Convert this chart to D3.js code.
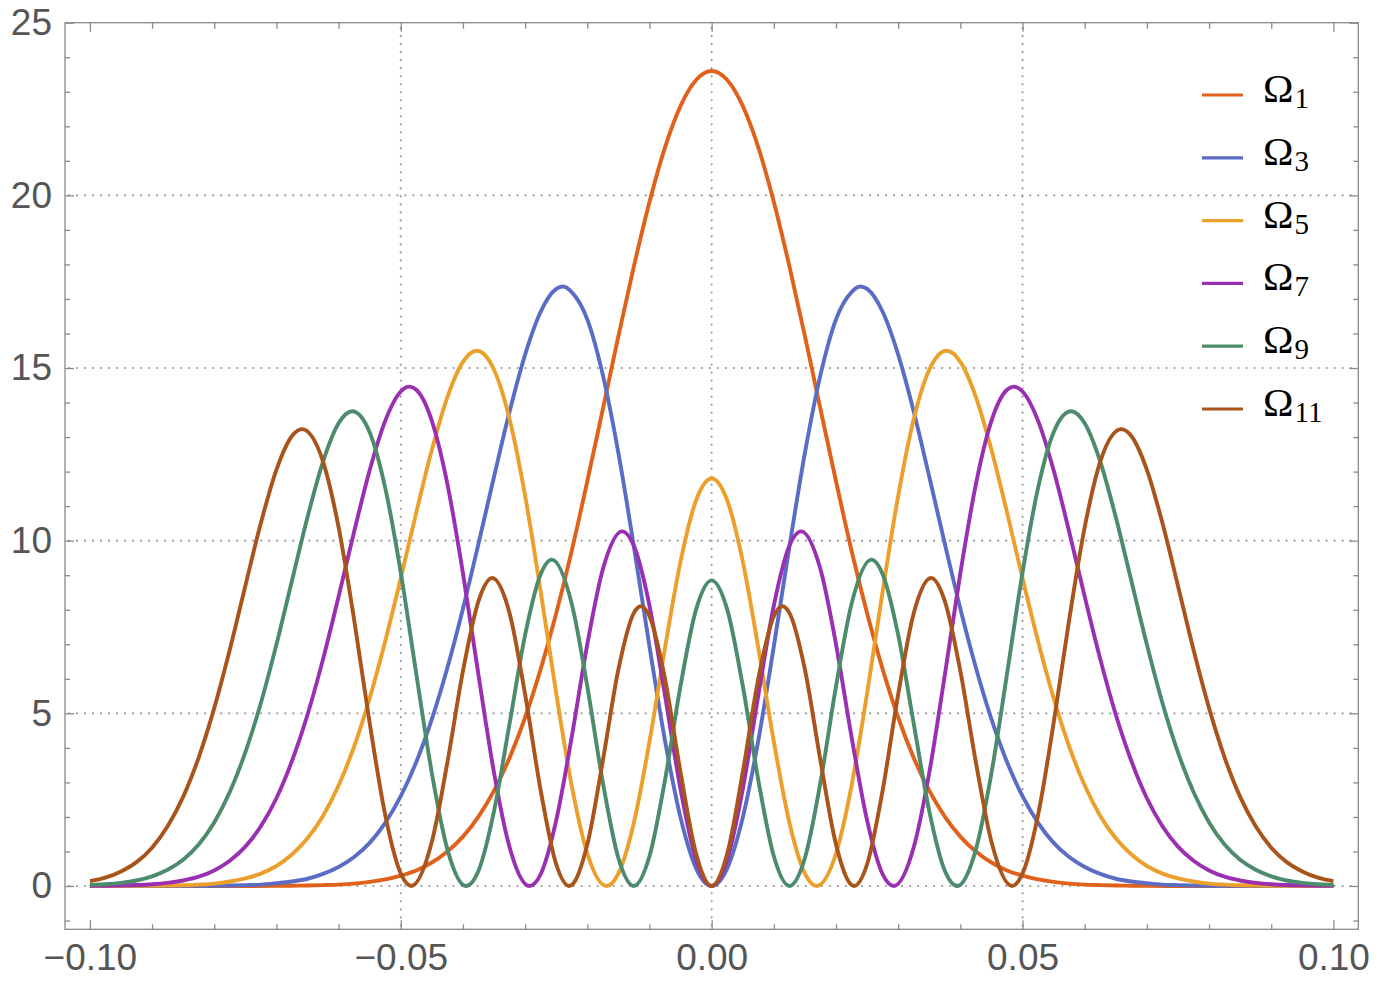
<!DOCTYPE html>
<html>
<head>
<meta charset="utf-8">
<script src="https://cdn.jsdelivr.net/npm/d3@7"></script>
<style>
  body { margin: 0; background: #fff; }
  svg { display: block; }
</style>
</head>
<body>
<div class="plotContainer"></div>
<script>
// ======= data =======

var seriesNames = ["1", "3", "5", "7", "9", "11"];
var seriesColors = ["#e0611b", "#5b6cc5", "#eaa02a", "#9a2fb2", "#4c8b6c", "#a8541a"];

var omega1 = [
  [-0.1, 0], [-0.09, 0], [-0.08, 0], [-0.075, 0.001], [-0.07, 0.004], [-0.0675, 0.008], [-0.065, 0.015],
  [-0.0625, 0.025], [-0.06, 0.04], [-0.0575, 0.07], [-0.055, 0.12], [-0.0525, 0.19], [-0.05, 0.30],
  [-0.0475, 0.45], [-0.045, 0.68], [-0.0425, 1.00], [-0.04, 1.43], [-0.0375, 2.01], [-0.035, 2.76],
  [-0.0325, 3.71], [-0.03, 4.88], [-0.0275, 6.28], [-0.025, 7.90], [-0.0225, 9.71], [-0.02, 11.72],
  [-0.0175, 13.81], [-0.015, 15.92], [-0.0125, 17.95], [-0.01, 19.81], [-0.0075, 21.39], [-0.005, 22.59],
  [-0.0025, 23.34], [0, 23.6],
  [0.0025, 23.34], [0.005, 22.59], [0.0075, 21.39], [0.01, 19.81], [0.0125, 17.95], [0.015, 15.92],
  [0.0175, 13.81], [0.02, 11.72], [0.0225, 9.71], [0.025, 7.90], [0.0275, 6.28], [0.03, 4.88],
  [0.0325, 3.71], [0.035, 2.76], [0.0375, 2.01], [0.04, 1.43], [0.0425, 1.00], [0.045, 0.68],
  [0.0475, 0.45], [0.05, 0.30], [0.0525, 0.19], [0.055, 0.12], [0.0575, 0.07], [0.06, 0.04],
  [0.0625, 0.025], [0.065, 0.015], [0.0675, 0.008], [0.07, 0.004], [0.075, 0.001], [0.08, 0],
  [0.09, 0], [0.1, 0]
];

var omega3 = [
  [-0.1, 0], [-0.09, 0], [-0.085, 0.002], [-0.08, 0.007], [-0.0775, 0.013], [-0.075, 0.025], [-0.0725, 0.04],
  [-0.07, 0.08], [-0.0675, 0.13], [-0.065, 0.21], [-0.0625, 0.35], [-0.06, 0.55], [-0.0575, 0.84],
  [-0.055, 1.25], [-0.0525, 1.83], [-0.05, 2.60], [-0.0475, 3.59], [-0.045, 4.83], [-0.0425, 6.32],
  [-0.04, 8.03], [-0.0375, 9.91], [-0.035, 11.85], [-0.0325, 13.74], [-0.03, 15.39], [-0.0275, 16.63],
  [-0.025, 17.29], [-0.0239, 17.36], [-0.0225, 17.20], [-0.02, 16.41], [-0.0175, 14.80], [-0.015, 12.54],
  [-0.0125, 9.82], [-0.01, 6.94], [-0.0075, 4.21], [-0.005, 1.98], [-0.0025, 0.51], [0, 0],
  [0.0025, 0.51], [0.005, 1.98], [0.0075, 4.21], [0.01, 6.94], [0.0125, 9.82], [0.015, 12.54],
  [0.0175, 14.80], [0.02, 16.41], [0.0225, 17.20], [0.0239, 17.36], [0.025, 17.29], [0.0275, 16.63],
  [0.03, 15.39], [0.0325, 13.74], [0.035, 11.85], [0.0375, 9.91], [0.04, 8.03], [0.0425, 6.32],
  [0.045, 4.83], [0.0475, 3.59], [0.05, 2.60], [0.0525, 1.83], [0.055, 1.25], [0.0575, 0.84],
  [0.06, 0.55], [0.0625, 0.35], [0.065, 0.21], [0.0675, 0.13], [0.07, 0.08], [0.0725, 0.04],
  [0.075, 0.025], [0.0775, 0.013], [0.08, 0.007], [0.085, 0.002], [0.09, 0], [0.1, 0]
];

var omega5 = [
  [-0.1, 0], [-0.095, 0.002], [-0.09, 0.006], [-0.0875, 0.012], [-0.085, 0.02], [-0.0825, 0.04], [-0.08, 0.07],
  [-0.0775, 0.13], [-0.075, 0.22], [-0.0725, 0.36], [-0.07, 0.58], [-0.0675, 0.91], [-0.065, 1.38],
  [-0.0625, 2.03], [-0.06, 2.91], [-0.0575, 4.04], [-0.055, 5.44], [-0.0525, 7.09], [-0.05, 8.91],
  [-0.0475, 10.82], [-0.045, 12.63], [-0.0425, 14.16], [-0.04, 15.18], [-0.0378, 15.50], [-0.035, 14.95],
  [-0.0325, 13.52], [-0.03, 11.30], [-0.0275, 8.53], [-0.025, 5.58], [-0.0225, 2.90], [-0.02, 0.94],
  [-0.0169, 0], [-0.015, 0.36], [-0.0125, 1.84], [-0.01, 4.18], [-0.0075, 6.90], [-0.005, 9.40],
  [-0.0025, 11.17], [0, 11.8],
  [0.0025, 11.17], [0.005, 9.40], [0.0075, 6.90], [0.01, 4.18], [0.0125, 1.84], [0.015, 0.36],
  [0.0169, 0], [0.02, 0.94], [0.0225, 2.90], [0.025, 5.58], [0.0275, 8.53], [0.03, 11.30],
  [0.0325, 13.52], [0.035, 14.95], [0.0378, 15.50], [0.04, 15.18], [0.0425, 14.16], [0.045, 12.63],
  [0.0475, 10.82], [0.05, 8.91], [0.0525, 7.09], [0.055, 5.44], [0.0575, 4.04], [0.06, 2.91],
  [0.0625, 2.03], [0.065, 1.38], [0.0675, 0.91], [0.07, 0.58], [0.0725, 0.36], [0.075, 0.22],
  [0.0775, 0.13], [0.08, 0.07], [0.0825, 0.04], [0.085, 0.02], [0.0875, 0.012], [0.09, 0.006],
  [0.095, 0.002], [0.1, 0]
];

var omega7 = [
  [-0.1, 0.004], [-0.0975, 0.007], [-0.095, 0.014], [-0.0925, 0.027], [-0.09, 0.05], [-0.0875, 0.09],
  [-0.085, 0.16], [-0.0825, 0.27], [-0.08, 0.45], [-0.0775, 0.73], [-0.075, 1.14], [-0.0725, 1.73],
  [-0.07, 2.54], [-0.0675, 3.62], [-0.065, 4.96], [-0.0625, 6.57], [-0.06, 8.38], [-0.0575, 10.26],
  [-0.055, 12.04], [-0.0525, 13.47], [-0.05, 14.32], [-0.0486, 14.46], [-0.0475, 14.37], [-0.045, 13.47],
  [-0.0425, 11.64], [-0.04, 9.06], [-0.0375, 6.11], [-0.035, 3.28], [-0.0325, 1.12], [-0.0293, 0],
  [-0.0275, 0.34], [-0.025, 1.90], [-0.0225, 4.32], [-0.02, 7.00], [-0.0175, 9.17], [-0.0144, 10.27],
  [-0.0125, 9.85], [-0.01, 8.12], [-0.0075, 5.52], [-0.005, 2.80], [-0.0025, 0.76], [0, 0],
  [0.0025, 0.76], [0.005, 2.80], [0.0075, 5.52], [0.01, 8.12], [0.0125, 9.85], [0.0144, 10.27],
  [0.0175, 9.17], [0.02, 7.00], [0.0225, 4.32], [0.025, 1.90], [0.0275, 0.34], [0.0293, 0],
  [0.0325, 1.12], [0.035, 3.28], [0.0375, 6.11], [0.04, 9.06], [0.0425, 11.64], [0.045, 13.47],
  [0.0475, 14.37], [0.0486, 14.46], [0.05, 14.32], [0.0525, 13.47], [0.055, 12.04], [0.0575, 10.26],
  [0.06, 8.38], [0.0625, 6.57], [0.065, 4.96], [0.0675, 3.62], [0.07, 2.54], [0.0725, 1.73],
  [0.075, 1.14], [0.0775, 0.73], [0.08, 0.45], [0.0825, 0.27], [0.085, 0.16], [0.0875, 0.09],
  [0.09, 0.05], [0.0925, 0.027], [0.095, 0.014], [0.0975, 0.007], [0.1, 0.004]
];

var omega9 = [
  [-0.1, 0.03], [-0.0975, 0.05], [-0.095, 0.09], [-0.0925, 0.16], [-0.09, 0.28], [-0.0875, 0.47],
  [-0.085, 0.76], [-0.0825, 1.20], [-0.08, 1.84], [-0.0775, 2.72], [-0.075, 3.87], [-0.0725, 5.30],
  [-0.07, 6.99], [-0.0675, 8.84], [-0.065, 10.68], [-0.0625, 12.29], [-0.06, 13.40], [-0.0578, 13.75],
  [-0.055, 13.14], [-0.0525, 11.53], [-0.05, 9.08], [-0.0475, 6.14], [-0.045, 3.27], [-0.0425, 1.06],
  [-0.0395, 0], [-0.0375, 0.44], [-0.035, 2.17], [-0.0325, 4.70], [-0.03, 7.27], [-0.0275, 9.03],
  [-0.0257, 9.45], [-0.0225, 8.17], [-0.02, 5.78], [-0.0175, 3.00], [-0.015, 0.81], [-0.0125, 0],
  [-0.01, 0.86], [-0.0075, 3.07], [-0.005, 5.80], [-0.0025, 8.01], [0, 8.85],
  [0.0025, 8.01], [0.005, 5.80], [0.0075, 3.07], [0.01, 0.86], [0.0125, 0], [0.015, 0.81],
  [0.0175, 3.00], [0.02, 5.78], [0.0225, 8.17], [0.0257, 9.45], [0.0275, 9.03], [0.03, 7.27],
  [0.0325, 4.70], [0.035, 2.17], [0.0375, 0.44], [0.0395, 0], [0.0425, 1.06], [0.045, 3.27],
  [0.0475, 6.14], [0.05, 9.08], [0.0525, 11.53], [0.055, 13.14], [0.0578, 13.75], [0.06, 13.40],
  [0.0625, 12.29], [0.065, 10.68], [0.0675, 8.84], [0.07, 6.99], [0.0725, 5.30], [0.075, 3.87],
  [0.0775, 2.72], [0.08, 1.84], [0.0825, 1.20], [0.085, 0.76], [0.0875, 0.47], [0.09, 0.28],
  [0.0925, 0.16], [0.095, 0.09], [0.0975, 0.05], [0.1, 0.03]
];

var omega11 = [
  [-0.1, 0.14], [-0.0975, 0.24], [-0.095, 0.42], [-0.0925, 0.69], [-0.09, 1.11], [-0.0875, 1.73],
  [-0.085, 2.58], [-0.0825, 3.72], [-0.08, 5.15], [-0.0775, 6.84], [-0.075, 8.69], [-0.0725, 10.51],
  [-0.07, 12.05], [-0.0675, 13.03], [-0.0659, 13.23], [-0.0625, 12.29], [-0.06, 10.39], [-0.0575, 7.71],
  [-0.055, 4.72], [-0.0525, 2.06], [-0.05, 0.36], [-0.0483, 0], [-0.045, 1.28], [-0.0425, 3.58],
  [-0.04, 6.22], [-0.0375, 8.25], [-0.0353, 8.92], [-0.0325, 7.90], [-0.03, 5.55], [-0.0275, 2.77],
  [-0.025, 0.63], [-0.0229, 0], [-0.02, 1.20], [-0.0175, 3.63], [-0.015, 6.27], [-0.0125, 7.91],
  [-0.0114, 8.10], [-0.01, 7.81], [-0.0075, 6.00], [-0.005, 3.29], [-0.0025, 0.93], [0, 0],
  [0.0025, 0.93], [0.005, 3.29], [0.0075, 6.00], [0.01, 7.81], [0.0114, 8.10], [0.0125, 7.91],
  [0.015, 6.27], [0.0175, 3.63], [0.02, 1.20], [0.0229, 0], [0.025, 0.63], [0.0275, 2.77],
  [0.03, 5.55], [0.0325, 7.90], [0.0353, 8.92], [0.0375, 8.25], [0.04, 6.22], [0.0425, 3.58],
  [0.045, 1.28], [0.0483, 0], [0.05, 0.36], [0.0525, 2.06], [0.055, 4.72], [0.0575, 7.71],
  [0.06, 10.39], [0.0625, 12.29], [0.0659, 13.23], [0.0675, 13.03], [0.07, 12.05], [0.0725, 10.51],
  [0.075, 8.69], [0.0775, 6.84], [0.08, 5.15], [0.0825, 3.72], [0.085, 2.58], [0.0875, 1.73],
  [0.09, 1.11], [0.0925, 0.69], [0.095, 0.42], [0.0975, 0.24], [0.1, 0.14]
];

var allSeries = [omega1, omega3, omega5, omega7, omega9, omega11];

var xMajorTicks = [-0.1, -0.05, 0, 0.05, 0.1];
var xTickLabels = ["\u22120.10", "\u22120.05", "0.00", "0.05", "0.10"];
var xMinorTicks = [-0.09, -0.08, -0.07, -0.06, -0.04, -0.03, -0.02, -0.01,
                   0.01, 0.02, 0.03, 0.04, 0.06, 0.07, 0.08, 0.09];
var yMajorTicks = [0, 5, 10, 15, 20, 25];
var yTickLabels = ["0", "5", "10", "15", "20", "25"];
var yMinorTicks = [-1, 1, 2, 3, 4, 6, 7, 8, 9, 11, 12, 13, 14, 16, 17, 18, 19, 21, 22, 23, 24];
var xGrid = [-0.05, 0, 0.05];
var yGrid = [0, 5, 10, 15, 20];

// ======= layout =======

var width = 1394;
var height = 990;
var frameLeft = 65, frameRight = 1358.3, frameTop = 22.7, frameBottom = 929.3;

var svg = d3.select(".plotContainer")
  .append("svg")
    .attr("width", width)
    .attr("height", height);

svg.append("rect").attr("width", width).attr("height", height).attr("fill", "#fff");

var x = d3.scaleLinear().domain([-0.104, 0.104]).range([frameLeft, frameRight]);
var y = d3.scaleLinear().domain([-1.254, 25]).range([frameBottom, frameTop]);

// ======= grid =======

var grid = svg.append("g").attr("class", "grid")
    .attr("stroke", "#9a9a9a")
    .attr("stroke-width", 2.2)
    .attr("stroke-linecap", "round")
    .attr("stroke-dasharray", "0.01,8");

grid.selectAll(".gx")
    .data(xGrid)
  .enter().append("line")
    .attr("class", "gx")
    .attr("x1", function(d){ return x(d); })
    .attr("x2", function(d){ return x(d); })
    .attr("y1", frameBottom - 4)
    .attr("y2", frameTop);

grid.selectAll(".gy")
    .data(yGrid)
  .enter().append("line")
    .attr("class", "gy")
    .attr("x1", frameLeft + 4)
    .attr("x2", frameRight)
    .attr("y1", function(d){ return y(d); })
    .attr("y2", function(d){ return y(d); });

// ======= curves =======

var line = d3.line()
    .x(function(d){ return x(d[0]); })
    .y(function(d){ return y(d[1]); })
    .curve(d3.curveMonotoneX);

svg.append("g").attr("class", "curves")
  .selectAll(".curve")
    .data(allSeries)
  .enter().append("path")
    .attr("class", "curve")
    .attr("d", line)
    .attr("fill", "none")
    .attr("stroke", function(d, i){ return seriesColors[i]; })
    .attr("stroke-width", 3.9)
    .attr("stroke-linejoin", "round");

// ======= frame + ticks =======

var frameColor = "#8a8a8a";
var labelFont = "'Liberation Sans', Arial, Helvetica, sans-serif";

function styleAxis(g) {
  g.select(".domain").remove();
  g.selectAll(".tick line").attr("stroke", frameColor).attr("stroke-width", 1.3);
}

var fmtX = function(d){ return xTickLabels[xMajorTicks.indexOf(d)]; };
var fmtY = function(d){ return yTickLabels[yMajorTicks.indexOf(d)]; };

svg.append("g").attr("transform", "translate(0," + frameBottom + ")")
    .call(d3.axisBottom(x).tickValues(xMajorTicks).tickSize(-9).tickPadding(14.5).tickFormat(fmtX))
    .call(styleAxis);
svg.append("g").attr("transform", "translate(0," + frameBottom + ")")
    .call(d3.axisBottom(x).tickValues(xMinorTicks).tickSize(-5).tickFormat(""))
    .call(styleAxis);
svg.append("g").attr("transform", "translate(0," + frameTop + ")")
    .call(d3.axisTop(x).tickValues(xMajorTicks).tickSize(-9).tickFormat(""))
    .call(styleAxis);
svg.append("g").attr("transform", "translate(0," + frameTop + ")")
    .call(d3.axisTop(x).tickValues(xMinorTicks).tickSize(-6).tickFormat(""))
    .call(styleAxis);

svg.append("g").attr("transform", "translate(" + frameLeft + ",0)")
    .call(d3.axisLeft(y).tickValues(yMajorTicks).tickSize(-9).tickPadding(13).tickFormat(fmtY))
    .call(styleAxis);
svg.append("g").attr("transform", "translate(" + frameLeft + ",0)")
    .call(d3.axisLeft(y).tickValues(yMinorTicks).tickSize(-5).tickFormat(""))
    .call(styleAxis);
svg.append("g").attr("transform", "translate(" + frameRight + ",0)")
    .call(d3.axisRight(y).tickValues(yMajorTicks).tickSize(-9).tickFormat(""))
    .call(styleAxis);
svg.append("g").attr("transform", "translate(" + frameRight + ",0)")
    .call(d3.axisRight(y).tickValues(yMinorTicks).tickSize(-5).tickFormat(""))
    .call(styleAxis);

svg.selectAll(".tick text")
    .attr("fill", "#555")
    .style("font-family", labelFont)
    .style("font-size", "37px");

svg.append("rect")
    .attr("x", frameLeft).attr("y", frameTop)
    .attr("width", frameRight - frameLeft).attr("height", frameBottom - frameTop)
    .attr("fill", "none")
    .attr("stroke", frameColor)
    .attr("stroke-width", 1.3);

// ======= legend =======

var legend = svg.append("g").attr("class", "legend").attr("transform", "translate(1202,95)");

var items = legend.selectAll(".item")
    .data(seriesNames)
  .enter().append("g")
    .attr("class", "item")
    .attr("transform", function(d, i){ return "translate(0," + (i * 62.8) + ")"; });

items.append("line")
    .attr("x1", 0).attr("x2", 41)
    .attr("stroke", function(d, i){ return seriesColors[i]; })
    .attr("stroke-width", 3.2);

var txt = items.append("text")
    .attr("x", 61)
    .attr("y", 7)
    .style("font-family", "'Liberation Serif', 'Times New Roman', serif")
    .style("font-size", "41px")
    .attr("fill", "#000");
txt.append("tspan").text("\u03a9");
txt.append("tspan")
    .attr("dx", 1)
    .attr("dy", 6)
    .style("font-size", "29px")
    .text(function(d){ return d; });
</script>
</body>
</html>
